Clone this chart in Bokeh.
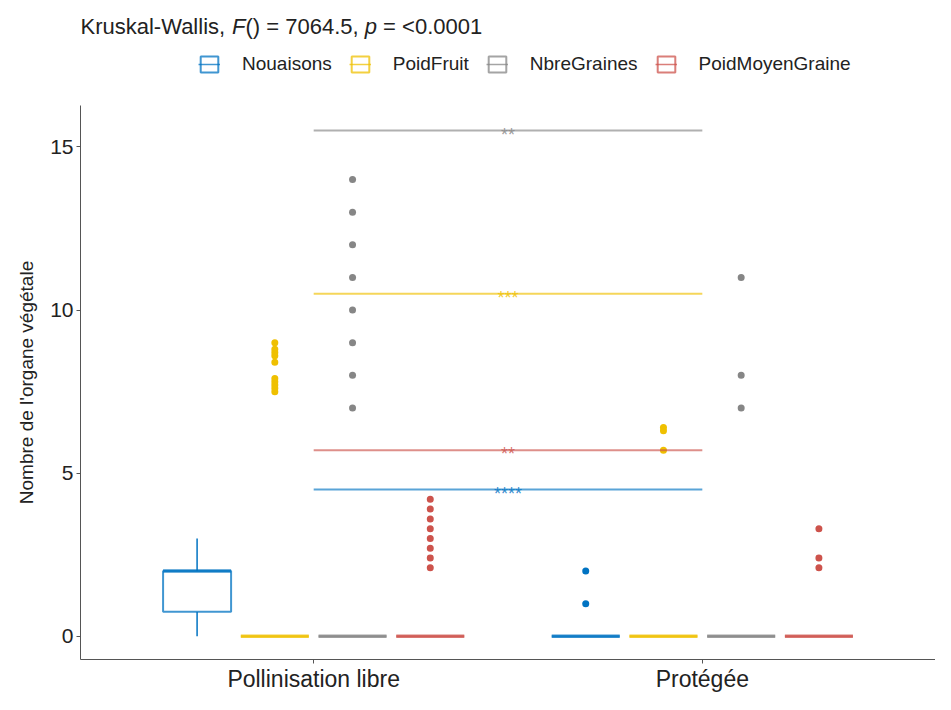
from bokeh.plotting import figure
from bokeh.layouts import column
from bokeh.models import (Range1d, FixedTicker, Legend, LegendItem, Label,
                          ColumnDataSource)
from bokeh.core.properties import value
from bokeh.embed import file_html
from bokeh.resources import INLINE

FONT = "Liberation Sans"

# ---------------- data ----------------
groups = ["Pollinisation libre", "Protégée"]
series = ["Nouaisons", "PoidFruit", "NbreGraines", "PoidMoyenGraine"]
colors = ["#0073C2", "#EFC000", "#868686", "#CD534C"]

# box statistics per series, one value per group
q1 = {"Nouaisons": [0.75, 0], "PoidFruit": [0, 0], "NbreGraines": [0, 0], "PoidMoyenGraine": [0, 0]}
med = {"Nouaisons": [2.0, 0], "PoidFruit": [0, 0], "NbreGraines": [0, 0], "PoidMoyenGraine": [0, 0]}
q3 = {"Nouaisons": [2.0, 0], "PoidFruit": [0, 0], "NbreGraines": [0, 0], "PoidMoyenGraine": [0, 0]}
lo = {"Nouaisons": [0, 0], "PoidFruit": [0, 0], "NbreGraines": [0, 0], "PoidMoyenGraine": [0, 0]}
hi = {"Nouaisons": [3.0, 0], "PoidFruit": [0, 0], "NbreGraines": [0, 0], "PoidMoyenGraine": [0, 0]}

# outliers per series: [group 1 values, group 2 values]
outliers = {
    "Nouaisons": [[], [1, 2]],
    "PoidFruit": [[9.0, 8.8, 8.7, 8.6, 8.4, 7.9, 7.8, 7.7, 7.6, 7.5], [6.4, 6.3, 5.7]],
    "NbreGraines": [[7, 8, 9, 10, 11, 12, 13, 14], [7, 8, 11]],
    "PoidMoyenGraine": [[4.2, 3.9, 3.6, 3.3, 3.0, 2.7, 2.4, 2.1], [3.3, 2.4, 2.1]],
}

# significance brackets (between groups), per series
sig_y = [4.5, 10.5, 15.5, 5.7]
sig_labels = ["****", "***", "**", "**"]

y_ticks = [0, 5, 10, 15]
y_axis_min, y_axis_max = -0.71, 16.27
title_parts = [("Kruskal-Wallis, ", "normal"), ("F", "italic"), ("() = 7064.5, ", "normal"),
               ("p", "italic"), (" = <0.0001", "normal")]
y_label = "Nombre de l'organe végétale"

# ---------------- layout ----------------
W = 935
TOP_H = 105          # header figure (title + legend)
MAIN_H = 694 - TOP_H
FRAME_LEFT = 80

group_pos = [1, 2]
dodge = [-0.3, -0.1, 0.1, 0.3]
box_w = 0.175

# header figure: title and legend (its own ranges are far from the data,
# so the key renderers it holds stay out of view)
top = figure(width=W, height=TOP_H, output_backend="svg", toolbar_location=None,
             x_axis_type=None, y_axis_type=None,
             x_range=Range1d(100, 101), y_range=Range1d(100, 101),
             min_border_left=FRAME_LEFT, min_border_right=0, min_border_top=0,
             min_border_bottom=0)
top.xgrid.visible = False
top.ygrid.visible = False
top.outline_line_color = None

# main figure
p = figure(width=W, height=MAIN_H, output_backend="svg", toolbar_location=None,
           x_range=Range1d(0.4, 2.6), y_range=Range1d(y_axis_min, y_axis_max),
           min_border_left=FRAME_LEFT, min_border_right=0, min_border_top=0,
           min_border_bottom=35)
p.outline_line_color = None
p.xgrid.visible = False
p.ygrid.visible = False
p.background_fill_color = "white"

legend_items = []
for i, s in enumerate(series):
    c = colors[i]
    xc = [g + dodge[i] for g in group_pos]
    src = ColumnDataSource(dict(
        x=xc, left=[x - box_w / 2 for x in xc], right=[x + box_w / 2 for x in xc],
        q1=q1[s], med=med[s], q3=q3[s], lo=lo[s], hi=hi[s]))
    p.segment(x0="x", x1="x", y0="q3", y1="hi", source=src, line_color=c, line_width=1.5)
    p.segment(x0="x", x1="x", y0="q1", y1="lo", source=src, line_color=c, line_width=1.5)
    p.quad(left="left", right="right", bottom="q1", top="q3", source=src,
           fill_color="white", line_color=c, line_alpha=0.75, line_width=2)
    p.segment(x0="left", x1="right", y0="med", y1="med", source=src,
              line_color=c, line_alpha=0.75, line_width=3.5)
    ox, oy = [], []
    for gi, g in enumerate(group_pos):
        for v in outliers[s][gi]:
            ox.append(g + dodge[i])
            oy.append(v)
    p.scatter(ox, oy, size=7, color=c, line_width=0)
    # legend key renderers in the header figure (same data, out of its view)
    kq = top.quad(left="left", right="right", bottom="q1", top="q3", source=src,
                  fill_color="white", line_color=c, line_alpha=0.75, line_width=2)
    km = top.segment(x0="left", x1="right", y0="med", y1="med", source=src,
                     line_color=c, line_alpha=0.75, line_width=1.5)
    legend_items.append(LegendItem(label=s, renderers=[kq, km]))

# significance brackets
sig_src = ColumnDataSource(dict(x0=[group_pos[0]] * 4, x1=[group_pos[1]] * 4,
                                xm=[(group_pos[0] + group_pos[1]) / 2] * 4,
                                y=sig_y, lab=sig_labels, col=colors))
p.segment(x0="x0", x1="x1", y0="y", y1="y", source=sig_src, line_color="col",
          line_alpha=0.65, line_width=2)
p.text(x="xm", y="y", text="lab", source=sig_src, text_color="col", text_alpha=0.8,
       text_align="center", text_baseline="alphabetic", y_offset=4,
       text_font=value(FONT), text_font_size="18px")

# axes
p.xaxis.ticker = FixedTicker(ticks=group_pos)
p.xaxis.major_label_overrides = {group_pos[0]: groups[0], group_pos[1]: groups[1]}
p.yaxis.ticker = FixedTicker(ticks=y_ticks)
for ax in (p.xaxis[0], p.yaxis[0]):
    ax.minor_tick_line_color = None
    ax.major_tick_in = 0
    ax.major_tick_out = 4
    ax.axis_line_color = "#555555"
    ax.major_tick_line_color = "#555555"
    ax.major_label_text_font = FONT
    ax.major_label_text_color = "#222222"
    ax.major_label_standoff = 3
p.xaxis.major_label_standoff = 2
p.xaxis.major_label_text_font_size = "23px"
p.yaxis.major_label_text_font_size = "21px"
p.yaxis.axis_label = y_label
p.yaxis.axis_label_text_font = FONT
p.yaxis.axis_label_text_font_style = "normal"
p.yaxis.axis_label_text_font_size = "19px"
p.yaxis.axis_label_text_color = "#222222"
p.yaxis.axis_label_standoff = 10

# legend in the header (screen units relative to the header frame)
legend = Legend(items=legend_items, orientation="horizontal",
                location=(118, TOP_H - 75),
                glyph_width=22, glyph_height=20, label_standoff=22, spacing=17,
                padding=0, margin=0, border_line_alpha=0, background_fill_alpha=0,
                label_text_font=FONT, label_text_font_size="19px", label_text_color="#222222")
top.add_layout(legend, "center")

# title (mixed italic) in the header
char_w = {'K': 667, 'r': 333, 'u': 556, 's': 500, 'k': 500, 'a': 556, 'l': 222, '-': 333,
          'W': 944, 'i': 222, ',': 278, ' ': 278, 'F': 611, '(': 333, ')': 333, '=': 584,
          '7': 556, '0': 556, '6': 556, '4': 556, '.': 278, '5': 556, 'p': 556, '<': 584, '1': 556}
fs = 22
xpos = 0.0
for txt, style in title_parts:
    lead = len(txt) - len(txt.lstrip(" "))
    xpos += lead * char_w[" "] * fs / 1000.0
    body = txt.strip(" ")
    top.add_layout(Label(x=xpos, y=TOP_H - 26, x_units="screen", y_units="screen",
                         text=body, text_font=FONT, text_font_style=style,
                         text_font_size=f"{fs}px", text_color="#222222",
                         text_baseline="alphabetic"))
    xpos += sum(char_w.get(ch, 556) for ch in txt.lstrip(" ")) * fs / 1000.0

layout = column(top, p, spacing=0)
open("out.html", "w").write(file_html(layout, INLINE))
